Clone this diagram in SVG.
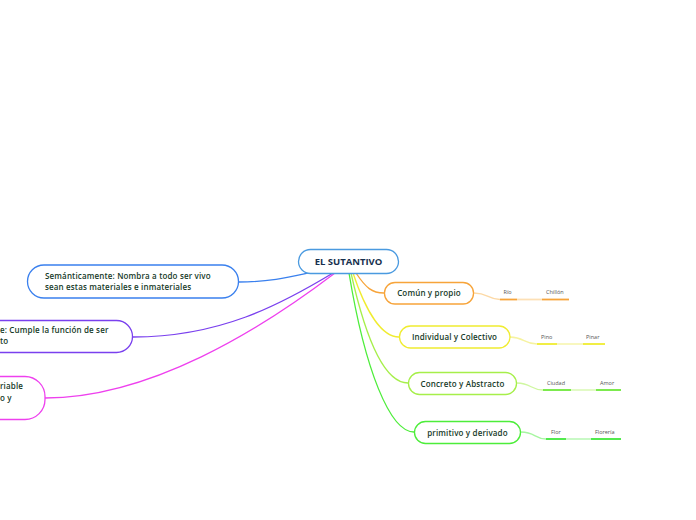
<svg xmlns="http://www.w3.org/2000/svg" width="696" height="520" viewBox="0 0 696 520">
<style>
.t{font-family:"Open Sans","Liberation Sans",sans-serif;font-weight:600;font-size:8px;letter-spacing:0.15px;fill:#163a28}
.c{font-family:"Open Sans","Liberation Sans",sans-serif;font-weight:700;font-size:9.5px;fill:#17304e}
.s{font-family:"Open Sans","Liberation Sans",sans-serif;font-size:5.5px;fill:#555}
.n{fill:#fff;stroke-width:1.3}
.l{fill:none;stroke-width:1.3}
</style>
<rect width="696" height="520" fill="#fff"/>
<g id="connectors">
<path class="l" d="M239,282 C270,282 290,277 308,273" stroke="#3a80ee"/>
<path class="l" d="M133,337 C220,337 280,305 333,273" stroke="#7a40ee"/>
<path class="l" d="M45,398 C150,398 260,330 335,273" stroke="#ee40ee"/>
<path class="l" d="M356,273 C366,288 372,293 384,293" stroke="#f7a43a"/>
<path class="l" d="M353,273 C366,312 382,337 399,337" stroke="#f0ec30"/>
<path class="l" d="M351,273 C366,340 385,383 408,383" stroke="#a6ef4a"/>
<path class="l" d="M349,273 C365,370 390,432 414,432" stroke="#4ded3a"/>
<path class="l" d="M474,293 C488,293 488,299.5 500,299.5" stroke="#fcd9a6" stroke-width="1"/>
<path class="l" d="M510,337 C524,337 524,344 537,344" stroke="#f6f3a0" stroke-width="1"/>
<path class="l" d="M517,383 C531,383 531,390 543,390" stroke="#cff7a0" stroke-width="1"/>
<path class="l" d="M521,432 C535,432 535,439 546,439" stroke="#a6f6a0" stroke-width="1"/>
</g>
<g id="central">
<rect class="n" x="298.5" y="249.5" width="100" height="24" rx="12" stroke="#4a9ae0"/>
<text class="c" x="348.5" y="264.8" text-anchor="middle">EL SUTANTIVO</text>
</g>
<g id="semanticamente">
<rect class="n" x="27.5" y="265" width="211" height="33" rx="16.5" stroke="#3a80ee"/>
<text class="t" x="45" y="279">Semánticamente: Nombra a todo ser vivo</text>
<text class="t" x="45" y="290">sean estas materiales e inmateriales</text>
</g>
<g id="sintacticamente">
<rect class="n" x="-60" y="320.5" width="192.5" height="32" rx="16" stroke="#7a40ee"/>
<text class="t" x="0" y="333">e: Cumple la función de ser</text>
<text class="t" x="0" y="344">to</text>
</g>
<g id="morfologicamente">
<rect class="n" x="-60" y="376.5" width="105" height="43" rx="20" stroke="#ee40ee"/>
<text class="t" x="0" y="389">riable</text>
<text class="t" x="0" y="401">o y</text>
</g>
<g id="comun">
<rect class="n" x="384.5" y="282.5" width="89" height="21.5" rx="10.5" stroke="#f7a43a"/>
<text class="t" x="429" y="296" text-anchor="middle">Común y propio</text>
</g>
<g id="individual">
<rect class="n" x="399.5" y="326" width="110.5" height="22" rx="11" stroke="#f0ec30"/>
<text class="t" x="454.5" y="340" text-anchor="middle">Individual y Colectivo</text>
</g>
<g id="concreto">
<rect class="n" x="408.5" y="372.5" width="108" height="22" rx="11" stroke="#a6ef4a"/>
<text class="t" x="462.5" y="386.5" text-anchor="middle">Concreto y Abstracto</text>
</g>
<g id="primitivo">
<rect class="n" x="414.5" y="421.5" width="106" height="22" rx="11" stroke="#4ded3a"/>
<text class="t" x="467.5" y="435.5" text-anchor="middle">primitivo y derivado</text>
</g>
<g id="rio">
<line x1="517" y1="299.5" x2="542" y2="299.5" stroke="#fde0b6" stroke-width="1.8"/>
<line x1="500" y1="299.5" x2="517" y2="299.5" stroke="#f7a43a" stroke-width="1.8"/>
<text class="s" x="503.5" y="294">Río</text>
</g>
<g id="chillon">
<line x1="542" y1="299.5" x2="569" y2="299.5" stroke="#f7a43a" stroke-width="1.8"/>
<text class="s" x="546" y="294">Chillón</text>
</g>
<g id="pino">
<line x1="557" y1="344" x2="583" y2="344" stroke="#f8f6b8" stroke-width="1.8"/>
<line x1="537" y1="344" x2="557" y2="344" stroke="#f0ec30" stroke-width="1.8"/>
<text class="s" x="541" y="338.5">Pino</text>
</g>
<g id="pinar">
<line x1="583" y1="344" x2="605" y2="344" stroke="#f0ec30" stroke-width="1.8"/>
<text class="s" x="586" y="338.5">Pinar</text>
</g>
<g id="ciudad">
<line x1="571" y1="390" x2="596" y2="390" stroke="#cff7a0" stroke-width="1.2"/>
<line x1="543" y1="390" x2="571" y2="390" stroke="#6ee83a" stroke-width="1.8"/>
<text class="s" x="547" y="384.5">Ciudad</text>
</g>
<g id="amor">
<line x1="596" y1="390" x2="621" y2="390" stroke="#6ee83a" stroke-width="1.8"/>
<text class="s" x="600" y="384.5">Amor</text>
</g>
<g id="flor">
<line x1="566" y1="439" x2="591" y2="439" stroke="#a6f6a0" stroke-width="1.2"/>
<line x1="546" y1="439" x2="566" y2="439" stroke="#3fe83a" stroke-width="1.8"/>
<text class="s" x="551" y="433.5">Flor</text>
</g>
<g id="floreria">
<line x1="591" y1="439" x2="621" y2="439" stroke="#3fe83a" stroke-width="1.8"/>
<text class="s" x="595" y="433.5">Florería</text>
</g>
</svg>
